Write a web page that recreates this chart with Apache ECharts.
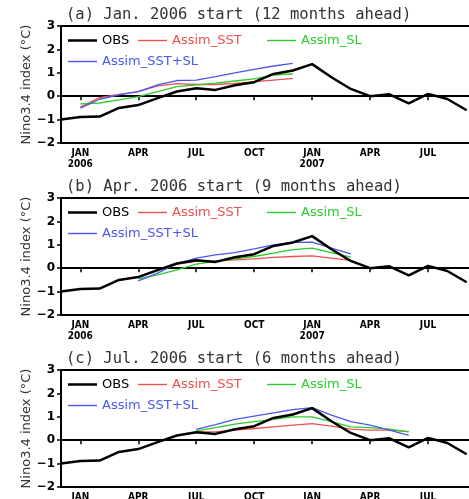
<!DOCTYPE html>
<html>
<head>
<meta charset="utf-8">
<script src="https://cdn.jsdelivr.net/npm/echarts@6/dist/echarts.min.js"></script>
<style>
  html, body { margin: 0; padding: 0; background: #fff; }
  #main { width: 469px; height: 499px; }
</style>
</head>
<body>
<div id="main"></div>
<script>
// months on the x axis (Dec 2005 .. Oct 2007)
var months = ['2005-12', '2006-01', '2006-02', '2006-03', '2006-04', '2006-05', '2006-06',
  '2006-07', '2006-08', '2006-09', '2006-10', '2006-11', '2006-12', '2007-01', '2007-02',
  '2007-03', '2007-04', '2007-05', '2007-06', '2007-07', '2007-08', '2007-09', '2007-10'];
var tickMonths = ['2006-01', '2006-04', '2006-07', '2006-10', '2007-01', '2007-04', '2007-07'];
var tickLabels = ['JAN\n2006', 'APR', 'JUL', 'OCT', 'JAN\n2007', 'APR', 'JUL'];

// observed Nino3.4 index
var obs = [-1.0, -0.89, -0.87, -0.5, -0.38, -0.08, 0.2, 0.34, 0.27, 0.47, 0.6, 0.95,
  1.1, 1.37, 0.81, 0.31, 0.0, 0.08, -0.31, 0.1, -0.12, -0.6, null];

// (a) Jan. 2006 start
var sstA  = [-0.47, -0.06, 0.08, 0.2, 0.44, 0.54, 0.5, 0.5, 0.55, 0.62, 0.69, 0.76];
var slA   = [-0.33, -0.29, -0.16, -0.02, 0.2, 0.41, 0.48, 0.56, 0.65, 0.74, 0.9, 0.96];
var bothA = [-0.51, -0.13, 0.06, 0.2, 0.48, 0.67, 0.69, 0.84, 1.0, 1.15, 1.29, 1.4];
// (b) Apr. 2006 start
var sstB  = [-0.36, -0.07, 0.17, 0.29, 0.31, 0.36, 0.4, 0.46, 0.5, 0.53, 0.43, 0.33];
var slB   = [-0.46, -0.29, -0.07, 0.17, 0.29, 0.4, 0.5, 0.64, 0.79, 0.86, 0.67, 0.47];
var bothB = [-0.54, -0.21, 0.19, 0.43, 0.57, 0.67, 0.83, 1.0, 1.1, 1.11, 0.86, 0.61];
// (c) Jul. 2006 start
var sstC  = [0.36, 0.36, 0.43, 0.5, 0.57, 0.64, 0.71, 0.6, 0.47, 0.43, 0.43, 0.37];
var slC   = [0.4, 0.54, 0.69, 0.79, 0.89, 1.0, 1.0, 0.79, 0.57, 0.54, 0.47, 0.36];
var bothC = [0.46, 0.67, 0.89, 1.03, 1.17, 1.31, 1.39, 1.07, 0.79, 0.64, 0.43, 0.21];

var panels = [
  { title: '(a) Jan. 2006 start (12 months ahead)', start: '2006-01', sst: sstA, sl: slA, both: bothA },
  { title: '(b) Apr. 2006 start (9 months ahead)', start: '2006-04', sst: sstB, sl: slB, both: bothB },
  { title: '(c) Jul. 2006 start (6 months ahead)', start: '2006-07', sst: sstC, sl: slC, both: bothC }
];

var colors = { OBS: '#000000', Assim_SST: '#ee5050', Assim_SL: '#2ccc2c', 'Assim_SST+SL': '#4a58ea' };
var gridTops = [26, 198, 370];
var labelFont = "'Liberation Sans Narrow', 'DejaVu Sans Condensed', 'DejaVu Sans'";

function pad(start, vals) {
  var out = [];
  var s = months.indexOf(start);
  for (var i = 0; i < months.length; i++) {
    var k = i - s;
    out.push(k >= 0 && k < vals.length ? vals[k] : null);
  }
  return out;
}

function isTick(idx, val) {
  return tickMonths.indexOf(val) >= 0;
}

var myChart = echarts.init(document.getElementById('main'), null, { renderer: 'canvas' });

var grid = [], xAxis = [], yAxis = [], series = [], title = [], legend = [];

panels.forEach(function (p, i) {
  var top = gridTops[i];
  // the plot runs off the right edge of the picture
  grid.push({
    left: 61, width: 425, top: top, height: 117,
    outerBoundsMode: 'none', containLabel: false,
    show: true, borderColor: '#000', borderWidth: 2
  });
  title.push({
    text: p.title, left: 66, top: top - 19, padding: 0,
    textStyle: { fontFamily: 'DejaVu Sans Mono', fontSize: 15.5, fontWeight: 'normal', color: '#333' }
  });
  xAxis.push({
    type: 'category', gridIndex: i, data: months, boundaryGap: false,
    axisLine: { lineStyle: { color: '#000', width: 2 } },
    axisTick: { interval: isTick, length: 4, lineStyle: { color: '#000', width: 1.5 } },
    axisLabel: {
      interval: isTick, margin: 5, color: '#000', fontWeight: 'bold',
      fontSize: 10, fontFamily: labelFont, lineHeight: 11,
      formatter: function (v) { return tickLabels[tickMonths.indexOf(v)]; }
    },
    splitLine: { show: false }
  });
  yAxis.push({
    type: 'value', gridIndex: i, min: -2, max: 3, interval: 1,
    name: 'Nino3.4 index (°C)', nameLocation: 'middle', nameGap: 28, nameMoveOverlap: false,
    nameTextStyle: { fontFamily: 'DejaVu Sans', fontSize: 13, color: '#333' },
    axisLine: { show: true, lineStyle: { color: '#000', width: 2 } },
    axisTick: { show: true, length: 4, lineStyle: { color: '#000', width: 1.5 } },
    axisLabel: {
      margin: 6, color: '#000', fontWeight: 'bold', fontSize: 12, fontFamily: 'DejaVu Sans',
      formatter: function (v) { return String(v).replace('-', '\u2212'); }
    },
    splitLine: { show: false }
  });
  [['Assim_SST', p.sst], ['Assim_SL', p.sl], ['Assim_SST+SL', p.both]].forEach(function (s) {
    series.push({
      name: s[0], type: 'line', xAxisIndex: i, yAxisIndex: i,
      data: pad(p.start, s[1]), symbol: 'none', silent: true, z: 2,
      lineStyle: { color: colors[s[0]], width: 1.3 }, itemStyle: { color: colors[s[0]] }
    });
  });
  series.push({
    name: 'OBS', type: 'line', xAxisIndex: i, yAxisIndex: i,
    data: obs, symbol: 'none', silent: true, z: 3,
    lineStyle: { color: '#000', width: 2.5 }, itemStyle: { color: '#000' }
  });
  // legend items placed by hand like the figure
  var items = [['OBS', 68, 8], ['Assim_SST', 138, 8], ['Assim_SL', 267, 8], ['Assim_SST+SL', 68, 29]];
  items.forEach(function (it) {
    legend.push({
      data: [{ name: it[0], textStyle: { color: colors[it[0]] } }],
      left: it[1], top: top + it[2], padding: 0, selectedMode: false,
      icon: 'rect', itemWidth: 29, itemHeight: it[0] === 'OBS' ? 2.5 : 1.4,
      textStyle: { fontFamily: 'DejaVu Sans', fontSize: 13 }
    });
  });
});

var option = {
  animation: false,
  backgroundColor: '#fff',
  title: title,
  legend: legend,
  grid: grid,
  xAxis: xAxis,
  yAxis: yAxis,
  series: series
};

myChart.setOption(option);
</script>
</body>
</html>
